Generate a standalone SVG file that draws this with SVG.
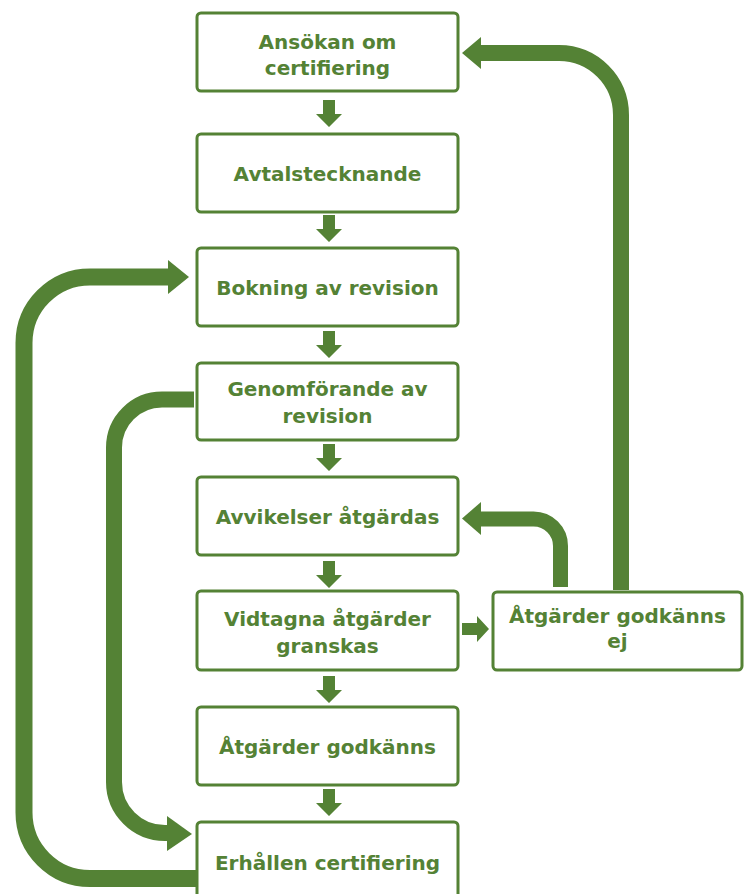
<svg xmlns="http://www.w3.org/2000/svg" width="744" height="894" viewBox="0 0 744 894">
<defs>
<style>
.box{fill:#fff;stroke:#548235;stroke-width:3}
.t{font-family:"DejaVu Sans",sans-serif;font-weight:bold;font-size:20px;fill:#548235;text-anchor:middle}
.band{fill:none;stroke:#548235}
.ah{fill:#548235}
</style>
<path id="down" d="M-6,0 H6 V14 H13 L0,27 L-13,14 H-6 Z"/>
</defs>
<rect width="744" height="894" fill="#fff"/>
<g id="connectors">
<use href="#down" class="ah" x="329" y="100"/>
<use href="#down" class="ah" x="329" y="215"/>
<use href="#down" class="ah" x="329" y="331"/>
<use href="#down" class="ah" x="329" y="444"/>
<use href="#down" class="ah" x="329" y="561"/>
<use href="#down" class="ah" x="329" y="676"/>
<use href="#down" class="ah" x="329" y="789"/>
<path class="ah" d="M462,623 H477 V616 L489,629 L477,642 V635 H462 Z"/>
<path class="band" stroke-width="17" d="M196,878.5 H90 A66,66 0 0 1 24,812.5 V343 A66,66 0 0 1 90,277 H170"/>
<polygon class="ah" points="168,260 189,277 168,294"/>
<path class="band" stroke-width="16" d="M194,399.5 H162 A48,48 0 0 0 114,447.5 V782 A51,51 0 0 0 165,833 H170"/>
<polygon class="ah" points="167,816 192,834 167,851"/>
<path class="band" stroke-width="16" d="M621,590 V115 A62,62 0 0 0 559,53 H478"/>
<polygon class="ah" points="481,37 462,53 481,69"/>
<path class="band" stroke-width="15" d="M560.5,587 V546 A27,27 0 0 0 533.5,519 H478"/>
<polygon class="ah" points="481,502 462,518.5 481,535"/>
</g>
<g id="n1"><rect class="box" x="197" y="13" width="261" height="78" rx="4"/><text class="t" x="327.5" y="49">Ansökan om</text><text class="t" x="327.5" y="75">certifiering</text></g>
<g id="n2"><rect class="box" x="197" y="134" width="261" height="78" rx="4"/><text class="t" x="327.5" y="181">Avtalstecknande</text></g>
<g id="n3"><rect class="box" x="197" y="248" width="261" height="78" rx="4"/><text class="t" x="327.5" y="295">Bokning av revision</text></g>
<g id="n4"><rect class="box" x="197" y="363" width="261" height="77" rx="4"/><text class="t" x="327.5" y="396">Genomförande av</text><text class="t" x="327.5" y="423">revision</text></g>
<g id="n5"><rect class="box" x="197" y="477" width="261" height="78" rx="4"/><text class="t" x="327.5" y="524">Avvikelser åtgärdas</text></g>
<g id="n6"><rect class="box" x="197" y="591" width="261" height="79" rx="4"/><text class="t" x="327.5" y="626">Vidtagna åtgärder</text><text class="t" x="327.5" y="653">granskas</text></g>
<g id="n7"><rect class="box" x="197" y="707" width="261" height="78" rx="4"/><text class="t" x="327.5" y="754">Åtgärder godkänns</text></g>
<g id="n8"><rect class="box" x="197" y="822" width="261" height="80" rx="4"/><text class="t" x="327.5" y="870">Erhållen certifiering</text></g>
<g id="n9"><rect class="box" x="493" y="592" width="249" height="78" rx="4"/><text class="t" x="617.5" y="623">Åtgärder godkänns</text><text class="t" x="617.5" y="648">ej</text></g>
</svg>
